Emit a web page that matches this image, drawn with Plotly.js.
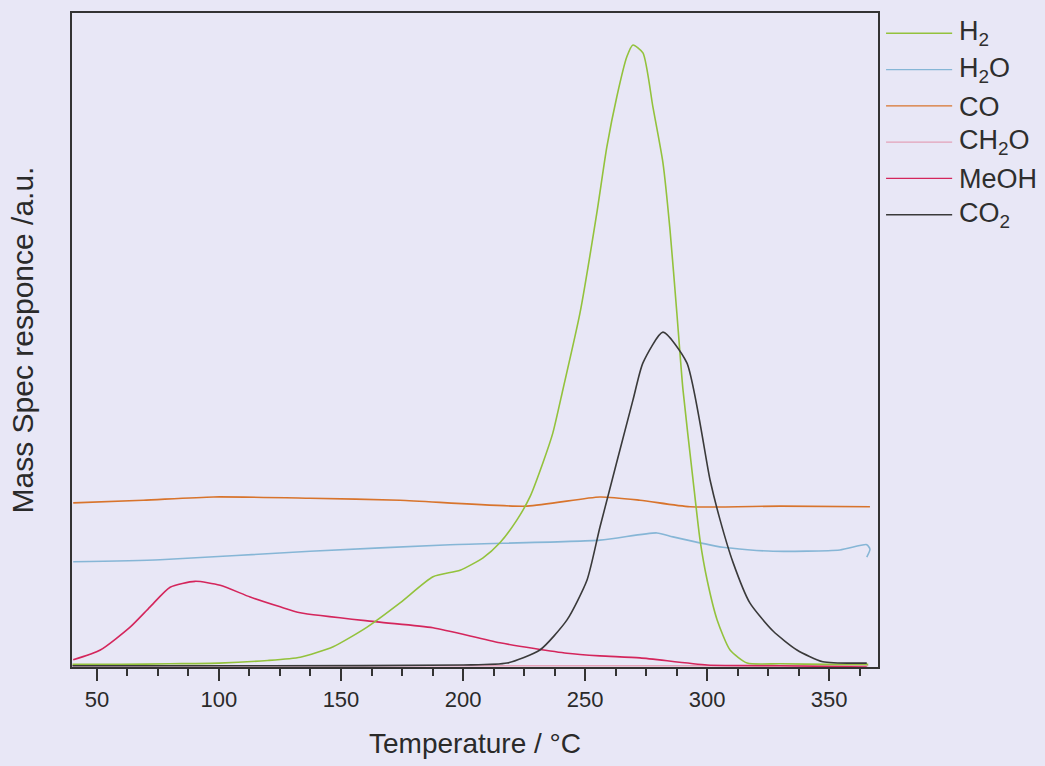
<!DOCTYPE html>
<html>
<head>
<meta charset="utf-8">
<script src="https://cdn.plot.ly/plotly-3.0.1.min.js"></script>
<style>
  html, body { margin: 0; padding: 0; background: #e8e7f6; }
  #chart { width: 1045px; height: 766px; }
</style>
</head>
<body>
<div id="chart"></div>
<script>
// ---- data ----
const seriesNames = ["H<sub>2</sub>", "H<sub>2</sub>O", "CO", "CH<sub>2</sub>O", "MeOH", "CO<sub>2</sub>"];
const seriesColors = ["#93c23c", "#86b6d6", "#d8742c", "#e3a2b8", "#d4265c", "#3a3a3a"];

const h2T = [40, 60, 80, 100, 120, 133.3, 146.8, 160.7, 174.2, 187.7, 198.8, 208.2, 215.1, 222.1, 227.4, 232.7, 236.8, 240.9, 247.9, 254.8, 258.9, 263.0, 267.1, 269.6, 273.7, 277.8, 281.9, 284.8, 287.6, 290.1, 294.2, 297.1, 300.0, 304.1, 309.4, 316.4, 330, 350, 366];
const h2Y = [0.4, 0.4, 0.5, 0.6, 1.0, 1.5, 3.1, 6.1, 9.8, 13.8, 14.8, 16.7, 19.0, 22.5, 26.0, 31.2, 35.8, 42.4, 54.1, 69.4, 79.5, 87.2, 93.3, 95.1, 93.9, 85.6, 77.1, 66.8, 54.1, 42.4, 28.7, 19.4, 13.3, 7.2, 2.6, 0.6, 0.5, 0.4, 0.4];

const h2oT = [40.3, 75.9, 137.4, 194.7, 256.1, 279.4, 286.0, 306.4, 327.0, 354.4, 365.4, 366.7, 365.4];
const h2oY = [16.1, 16.4, 17.7, 18.7, 19.4, 20.5, 19.9, 18.3, 17.7, 17.9, 18.7, 18.0, 16.8];

const coT = [40.3, 69.0, 97.7, 137.4, 174.2, 226.2, 256.1, 272.5, 293.0, 330, 366.7];
const coY = [25.1, 25.5, 26.0, 25.8, 25.5, 24.6, 26.0, 25.5, 24.5, 24.6, 24.5];

const ch2oT = [40, 120, 200, 280, 366];
const ch2oY = [0.2, 0.2, 0.2, 0.2, 0.2];

const meohT = [40.3, 51.4, 63.6, 71.8, 80.0, 90.2, 100.5, 112.8, 125.1, 133.3, 164.8, 187.7, 215.1, 242.6, 256.1, 272.5, 300.0, 330, 365.4];
const meohY = [1.1, 2.6, 6.1, 9.2, 12.2, 13.1, 12.5, 10.7, 9.2, 8.3, 6.9, 6.0, 3.7, 2.1, 1.7, 1.4, 0.3, 0.2, 0.0];

const co2T = [40, 120, 200, 218.0, 231.5, 242.6, 250.8, 256.1, 269.6, 273.7, 281.9, 291.7, 301.2, 305.3, 310.6, 317.5, 327.0, 336.8, 347.4, 365.4];
const co2Y = [0.2, 0.2, 0.3, 0.6, 2.6, 7.2, 13.3, 21.4, 40.8, 46.5, 51.2, 46.5, 28.6, 22.5, 16.0, 9.8, 5.5, 2.6, 0.8, 0.6];

const xTicks = [50, 100, 150, 200, 250, 300, 350];
const xTitle = "Temperature / °C";
const yTitle = "Mass Spec responce /a.u.";

// ---- traces ----
const xs = [h2T, h2oT, coT, ch2oT, meohT, co2T];
const ys = [h2Y, h2oY, coY, ch2oY, meohY, co2Y];
// draw order: baseline/other first, H2 and CO2 on top
const order = [3, 1, 2, 4, 0, 5];
const traces = order.map(i => ({
  x: xs[i], y: ys[i], type: "scatter", mode: "lines",
  name: seriesNames[i],
  line: { color: seriesColors[i], width: 1.6, shape: "spline", smoothing: 0.6 },
  showlegend: false, hoverinfo: "skip"
}));

// ---- manual legend (lines + labels) ----
const shapes = [];
const annotations = [];
const legTop = 0.969, legStep = 0.0555;
seriesNames.forEach((nm, i) => {
  const yy = legTop - i * legStep;
  shapes.push({ type: "line", xref: "paper", yref: "paper", x0: 1.010, x1: 1.092, y0: yy, y1: yy,
    line: { color: seriesColors[i], width: 1.3 } });
  const hasSub = nm.indexOf("<sub>") >= 0;
  annotations.push({ xref: "paper", yref: "paper", x: 1.098, y: yy, xanchor: "left", yanchor: "middle",
    yshift: hasSub ? 0 : -1,
    text: nm, showarrow: false, font: { family: "Liberation Sans, Arial, sans-serif", size: 27, color: "#2e2e2e" } });
});

const layout = {
  width: 1045, height: 766,
  paper_bgcolor: "#e8e7f6", plot_bgcolor: "#e8e7f6",
  margin: { l: 72, r: 167, t: 13, b: 99 },
  font: { family: "Liberation Sans, Arial, sans-serif", color: "#2e2e2e" },
  xaxis: {
    range: [39.8, 370], tickvals: xTicks, ticktext: xTicks.map(String),
    ticks: "outside", ticklen: 12, tickwidth: 2, tickcolor: "#333",
    minor: { dtick: 12.5, tick0: 0, ticks: "outside", ticklen: 7, tickwidth: 2, tickcolor: "#333" },
    showgrid: false, zeroline: false,
    showline: true, linecolor: "#333", linewidth: 2, mirror: true,
    tickfont: { size: 22, color: "#2a2a2a" },
    title: { text: xTitle, font: { size: 28, color: "#2a2a2a" }, standoff: 22 }
  },
  yaxis: {
    range: [0, 100], showticklabels: false, ticks: "",
    showgrid: false, zeroline: false,
    showline: true, linecolor: "#333", linewidth: 2, mirror: true,
    title: { text: yTitle, font: { size: 30, color: "#2a2a2a" }, standoff: 28 }
  },
  shapes: shapes,
  annotations: annotations,
  showlegend: false
};

Plotly.newPlot("chart", traces, layout, { displayModeBar: false, staticPlot: true });
</script>
</body>
</html>
